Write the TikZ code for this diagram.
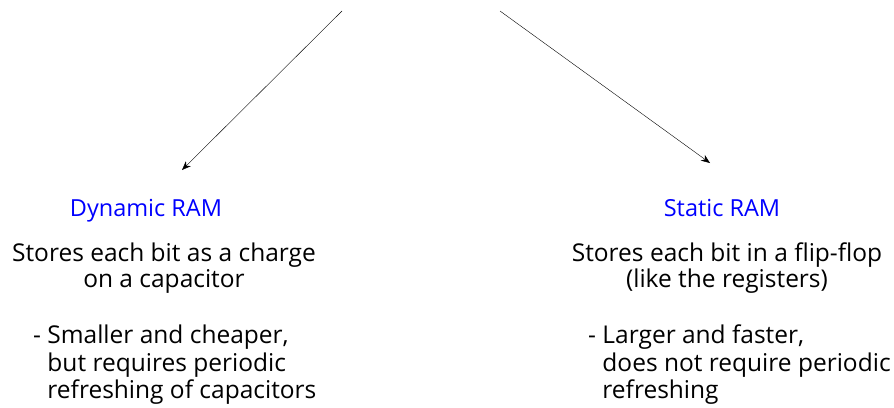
\documentclass[tikz,border=0pt]{standalone}
\usepackage{fontspec}
\setmainfont{Open Sans}
\usetikzlibrary{arrows.meta}
\tikzset{
  title/.style={text=blue, font=\fontsize{23.5}{26}\selectfont, inner sep=0pt},
  body/.style={font=\fontsize{24.5}{27.5}\selectfont, inner sep=0pt},
  ptr/.style={-{Stealth[length=9pt,width=7pt]}, thin}
}
\begin{document}
\begin{tikzpicture}[x=1pt,y=-1pt]
  \useasboundingbox (0,0) rectangle (894,407);
  % arrows from the top
  \coordinate (ltop) at (342,11);
  \coordinate (lend) at (182,170);
  \coordinate (rtop) at (500,11);
  \coordinate (rend) at (710,163);
  \draw[ptr] (ltop) -- (lend);
  \draw[ptr] (rtop) -- (rend);
  % dynamic
  \node[title] (dram) at (146,211) {Dynamic RAM};
  \node[body, align=center, font=\fontsize{24.5}{25.5}\selectfont] (ddesc) at (164,268) {Stores each bit as a charge\\on a capacitor};
  \node[body, align=left, anchor=west] (dnote) at (33,365) {- Smaller and cheaper,\\\phantom{- }but requires periodic\\\phantom{- }refreshing of capacitors};
  % static
  \node[title] (sram) at (722,208) {Static RAM};
  \node[body, align=center, font=\fontsize{24.5}{25.5}\selectfont] (sdesc) at (727,268) {Stores each bit in a flip-flop\\(like the registers)};
  \node[body, align=left, anchor=west] (snote) at (588,365) {- Larger and faster,\\\phantom{- }does not require periodic\\\phantom{- }refreshing};
\end{tikzpicture}
\end{document}
